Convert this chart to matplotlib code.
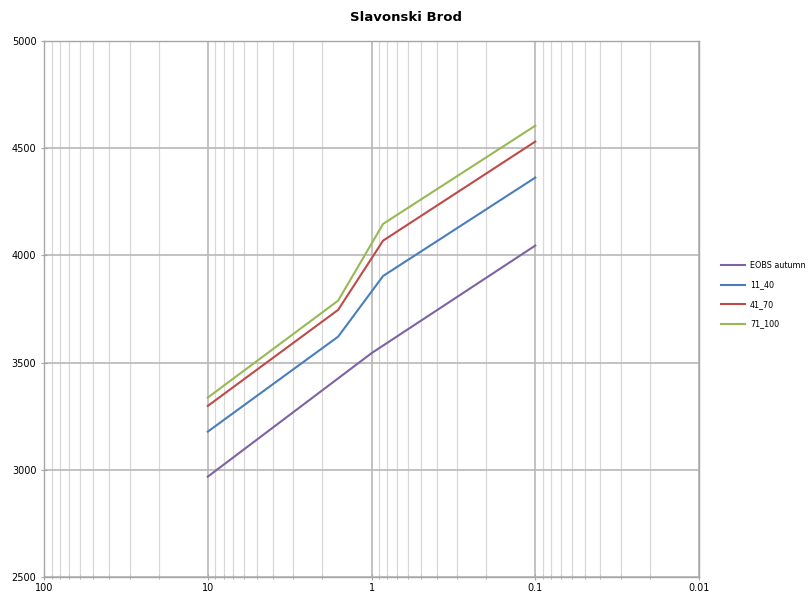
import numpy as np
import matplotlib.pyplot as plt
from matplotlib.ticker import LogLocator, FixedLocator, NullFormatter

# exceedance values (log axis, reversed)
x_main = [10, 1.6, 0.85, 0.1]
x_eobs = [10, 1.0, 0.1]

eobs_autumn = [2968, 3544, 4046]
s_11_40 = [3178, 3621, 3904, 4363]
s_41_70 = [3298, 3746, 4069, 4531]
s_71_100 = [3337, 3789, 4147, 4605]

xticks = [100, 10, 1, 0.1, 0.01]
xticklabels = ['100', '10', '1', '0.1', '0.01']
yticks = [2500, 3000, 3500, 4000, 4500, 5000]

fig = plt.figure(figsize=(8.11, 5.96), dpi=100)
ax = fig.add_axes([0.0543, 0.0319, 0.8077, 0.8993])

ax.plot(x_eobs, eobs_autumn, color='#7f62a2', lw=1.5, label='EOBS autumn')
ax.plot(x_main, s_11_40, color='#4a7ebb', lw=1.5, label='11_40')
ax.plot(x_main, s_41_70, color='#be4b48', lw=1.5, label='41_70')
ax.plot(x_main, s_71_100, color='#98b954', lw=1.5, label='71_100')

ax.set_xscale('log')
ax.set_xlim(100, 0.01)
ax.set_ylim(2500, 5000)

ax.xaxis.set_major_locator(FixedLocator(xticks))
ax.set_xticklabels(xticklabels)
ax.xaxis.set_minor_locator(LogLocator(base=10, subs=np.arange(2, 10)))
ax.xaxis.set_minor_formatter(NullFormatter())
ax.set_yticks(yticks)

ax.grid(which='major', axis='x', color='#b8b8b8', lw=1.2)
ax.grid(which='minor', axis='x', color='#d8d8d8', lw=0.9)
ax.grid(which='major', axis='y', color='#b8b8b8', lw=1.2)
ax.set_axisbelow(True)

for s in ax.spines.values():
    s.set_color('#a6a6a6')
    s.set_linewidth(1.0)

ax.tick_params(which='both', colors='#a6a6a6', labelcolor='black', labelsize=7,
               direction='inout', length=4)
ax.tick_params(axis='x', which='both', pad=2)
ax.tick_params(axis='x', which='minor', length=3)

fig.suptitle('Slavonski Brod', x=0.5, y=0.982, fontsize=9.5, fontweight='bold')

fig.legend(loc='upper left', bbox_to_anchor=(0.889, 0.562), frameon=False,
           borderpad=0, borderaxespad=0, fontsize=5.8, handlelength=3.0,
           labelspacing=1.3, handletextpad=0.6)

fig.savefig('out.png', dpi=100)
